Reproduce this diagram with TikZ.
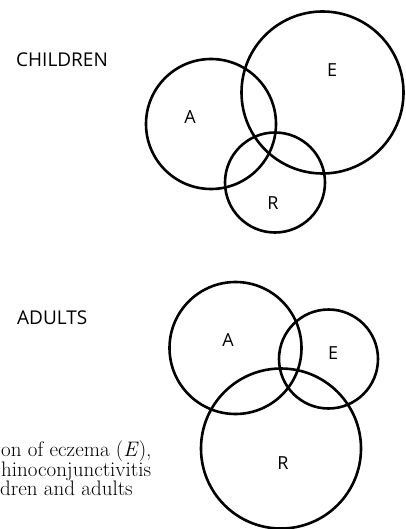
\documentclass[tikz,border=0pt]{standalone}
\usepackage{fontspec}
\newfontfamily\labelfont{Open Sans}
\begin{document}
\begin{tikzpicture}[x=1pt,y=-1pt,
  ven/.style={circle, draw=black, line width=2.6pt, inner sep=0pt},
  lbl/.style={font=\labelfont\fontsize{18}{20}\selectfont, inner sep=0pt},
  ttl/.style={font=\labelfont\fontsize{19}{21}\selectfont, inner sep=0pt, anchor=west},
  capt/.style={font=\fontsize{21}{24}\selectfont, inner sep=0pt, anchor=base west}]
\useasboundingbox (0,0) rectangle (405,529);
\clip (0,0) rectangle (405,529);
% children
\node[ven, minimum size=130pt] (cA) at (211,124) {};
\node[ven, minimum size=162pt] (cE) at (322.5,92.5) {};
\node[ven, minimum size=100pt] (cR) at (275,182.5) {};
\node[lbl] (cAl) at (190,117) {A};
\node[lbl] (cEl) at (332,70) {E};
\node[lbl] (cRl) at (273,203) {R};
\node[ttl] (ctitle) at (16,59.5) {CHILDREN};
% adults
\node[ven, minimum size=132pt] (aA) at (235.5,348) {};
\node[ven, minimum size=99pt] (aE) at (328.5,359) {};
\node[ven, minimum size=160pt] (aR) at (281,448.5) {};
\node[lbl] (aAl) at (228,340) {A};
\node[lbl] (aEl) at (333,353) {E};
\node[lbl] (aRl) at (283,463) {R};
\node[ttl] (atitle) at (17,318) {ADULTS};
% caption (cut at the left edge)
\node[capt] (cap1) at (1,456) {on of eczema (\textit{E}),};
\node[capt] (cap2) at (1,476) {hinoconjunctivitis};
\node[capt] (cap3) at (0,495) {dren and adults};
\end{tikzpicture}
\end{document}
